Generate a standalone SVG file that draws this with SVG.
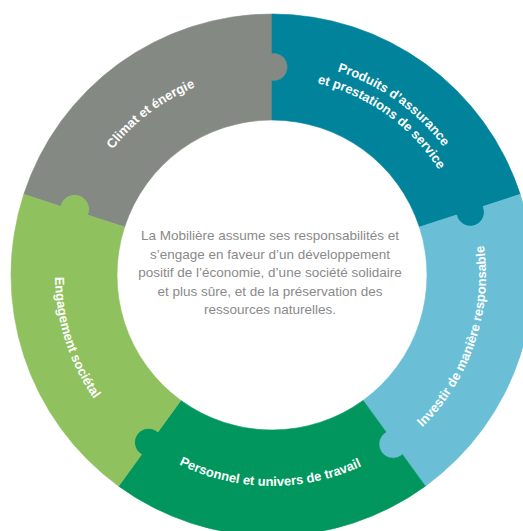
<svg xmlns="http://www.w3.org/2000/svg" width="523" height="531" viewBox="0 0 523 531">
<style>
.seg{stroke-width:0.6;stroke-linejoin:round}
.lbl{font-family:"Liberation Sans",Arial,sans-serif;font-weight:bold;font-size:13px;fill:#ffffff}
.ctr{font-family:"Liberation Sans",Arial,sans-serif;font-size:13.5px;fill:#8a8a8a;text-anchor:middle}
</style>
<defs>
<path id="pClimat" d="M70.51,299.74 A203,203 0 0 1 351.32,88.14"/>
<path id="pProd1" d="M183.26,80.27 A214,214 0 0 1 485.02,295.51"/>
<path id="pProd2" d="M190.31,95.74 A197,197 0 0 1 468.10,293.88"/>
<path id="pInvest" d="M313.93,484.85 A214,214 0 0 0 432.77,133.76"/>
<path id="pPers" d="M88.35,378.90 A211,211 0 0 0 453.80,382.09"/>
<path id="pEng" d="M112.24,129.63 A215,215 0 0 0 225.99,486.04"/>
</defs>
<rect width="523" height="531" fill="#ffffff"/>
<g id="climat">
<path class="seg" fill="#858984" stroke="#858984" d="M23.77,194.35 A261,261 0 0 1 272,14 L272,53.08 A14,14 0 1 1 272,80.92 L272,120 A155,155 0 0 0 124.59,227.10 L87.42,215.03 A14,14 0 1 0 60.94,206.42 Z"/>
<text class="lbl" text-anchor="middle"><textPath href="#pClimat" startOffset="50%">Climat et énergie</textPath></text>
</g>
<g id="produits">
<path class="seg" fill="#00839b" stroke="#00839b" d="M272,14 A261,261 0 0 1 520.23,194.35 L483.06,206.42 A14,14 0 1 1 456.58,215.03 L419.41,227.10 A155,155 0 0 0 272,120 L272,80.92 A14,14 0 1 0 272,53.08 Z"/>
<text class="lbl" text-anchor="middle"><textPath href="#pProd1" startOffset="50%">Produits d’assurance</textPath></text>
<text class="lbl" text-anchor="middle"><textPath href="#pProd2" startOffset="50%">et prestations de service</textPath></text>
</g>
<g id="investir">
<path class="seg" fill="#6abfd6" stroke="#6abfd6" d="M520.23,194.35 A261,261 0 0 1 425.41,486.15 L402.44,454.54 A14,14 0 1 1 386.08,432.01 L363.11,400.40 A155,155 0 0 0 419.41,227.10 L456.58,215.03 A14,14 0 1 0 483.06,206.42 Z"/>
<text class="lbl" text-anchor="middle"><textPath href="#pInvest" startOffset="50%">Investir de manière responsable</textPath></text>
</g>
<g id="personnel">
<path class="seg" fill="#00965e" stroke="#00965e" d="M425.41,486.15 A261,261 0 0 1 118.59,486.15 L141.56,454.54 A14,14 0 1 1 157.92,432.01 L180.89,400.40 A155,155 0 0 0 363.11,400.40 L386.08,432.01 A14,14 0 1 0 402.44,454.54 Z"/>
<text class="lbl" text-anchor="middle"><textPath href="#pPers" startOffset="50%">Personnel et univers de travail</textPath></text>
</g>
<g id="engagement">
<path class="seg" fill="#8fc15f" stroke="#8fc15f" d="M118.59,486.15 A261,261 0 0 1 23.77,194.35 L60.94,206.42 A14,14 0 1 1 87.42,215.03 L124.59,227.10 A155,155 0 0 0 180.89,400.40 L157.92,432.01 A14,14 0 1 0 141.56,454.54 Z"/>
<text class="lbl" text-anchor="middle"><textPath href="#pEng" startOffset="50%">Engagement sociétal</textPath></text>
</g>
<g id="centre">
<text class="ctr" x="270" y="240">La Mobilière assume ses responsabilités et</text>
<text class="ctr" x="270" y="258.6">s’engage en faveur d’un développement</text>
<text class="ctr" x="270" y="277.2">positif de l’économie, d’une société solidaire</text>
<text class="ctr" x="270" y="295.8">et plus sûre, et de la préservation des</text>
<text class="ctr" x="270" y="314.4">ressources naturelles.</text>
</g>
</svg>
